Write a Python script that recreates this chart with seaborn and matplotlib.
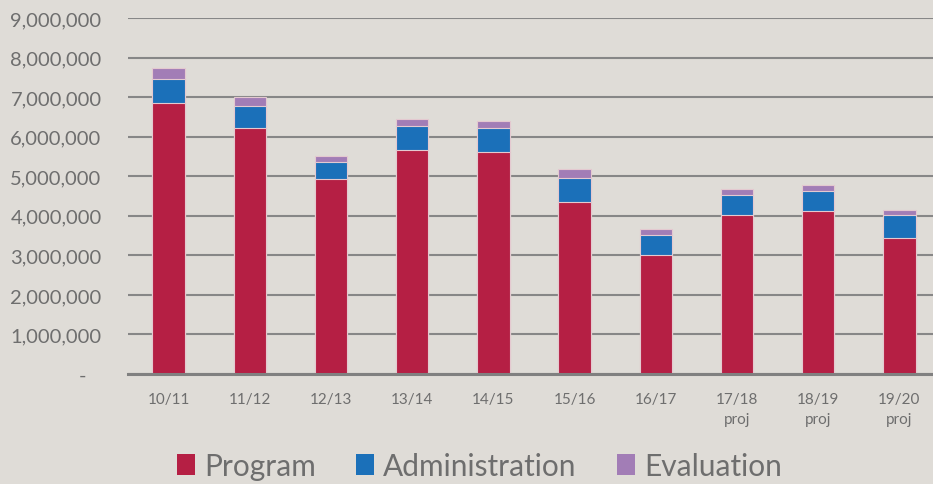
import matplotlib
matplotlib.use("Agg")
import matplotlib.pyplot as plt
import seaborn as sns
import numpy as np
import pandas as pd
from matplotlib.patches import Patch
from matplotlib.ticker import FuncFormatter

years = ["10/11", "11/12", "12/13", "13/14", "14/15", "15/16", "16/17",
         "17/18\nproj", "18/19\nproj", "19/20\nproj"]
program = [6860000, 6220000, 4940000, 5670000, 5610000, 4360000, 3000000,
           4020000, 4120000, 3450000]
administration = [600000, 560000, 410000, 590000, 600000, 590000, 520000,
                  510000, 510000, 560000]
evaluation = [280000, 220000, 160000, 180000, 180000, 220000, 140000,
              150000, 160000, 130000]
series_names = ["Program", "Administration", "Evaluation"]
y_ticks = [0, 1000000, 2000000, 3000000, 4000000, 5000000, 6000000,
           7000000, 8000000, 9000000]

colors = {"Program": "#b51f44", "Administration": "#1b70b9", "Evaluation": "#a27db6"}
bg = "#dfdcd7"
text_col = "#6e6e6e"

sns.set_style("white")
plt.rcParams["font.family"] = ["Lato", "DejaVu Sans"]

df = pd.DataFrame({"year": years, "Program": program,
                   "Administration": administration, "Evaluation": evaluation})
df["lvl2"] = df["Program"] + df["Administration"]
df["lvl3"] = df["lvl2"] + df["Evaluation"]

fig = plt.figure(figsize=(9.33, 4.85), dpi=100, facecolor=bg)
ax = fig.add_axes([128 / 933, 110 / 485, 812 / 933, 356 / 485])
ax.set_facecolor(bg)
ax.set_axisbelow(True)

edge = "#e4c9d0"
sns.barplot(data=df, x="year", y="lvl3", color=colors["Evaluation"], width=0.4,
            edgecolor=edge, linewidth=0.8, ax=ax, saturation=1)
sns.barplot(data=df, x="year", y="lvl2", color=colors["Administration"], width=0.4,
            edgecolor=edge, linewidth=0.8, ax=ax, saturation=1)
sns.barplot(data=df, x="year", y="Program", color=colors["Program"], width=0.4,
            edgecolor=edge, linewidth=0.8, ax=ax, saturation=1)

ax.set_xlim(-0.5, 9.5)
ax.set_ylim(0, 9000000)
ax.set_yticks(y_ticks)
ax.yaxis.set_major_formatter(FuncFormatter(lambda v, p: "-   " if v == 0 else f"{int(v):,}"))
ax.grid(axis="y", color="#878787", linewidth=1.5)
ax.grid(axis="x", visible=False)
for s in ["top", "right", "left"]:
    ax.spines[s].set_visible(False)
ax.spines["bottom"].set_color("#808080")
ax.spines["bottom"].set_linewidth(2.2)
ax.set_xlabel("")
ax.set_ylabel("")
ax.tick_params(axis="y", length=0, pad=19, labelsize=14.5, labelcolor=text_col)
ax.tick_params(axis="x", length=0, pad=13, labelsize=11, labelcolor=text_col)
for lab in ax.get_xticklabels():
    lab.set_linespacing(1.5)
    lab.set_verticalalignment("top")

handles = [Patch(facecolor=colors[n], edgecolor="none", label=n) for n in series_names]
leg = fig.legend(handles=handles, loc="center", bbox_to_anchor=(0.514, 0.037), ncol=3,
                 frameon=False, fontsize=21.5, handlelength=0.6, handleheight=0.68,
                 handletextpad=0.3, columnspacing=1.35, borderpad=0)
for t in leg.get_texts():
    t.set_color(text_col)

fig.savefig("out.png", dpi=100, facecolor=bg)
